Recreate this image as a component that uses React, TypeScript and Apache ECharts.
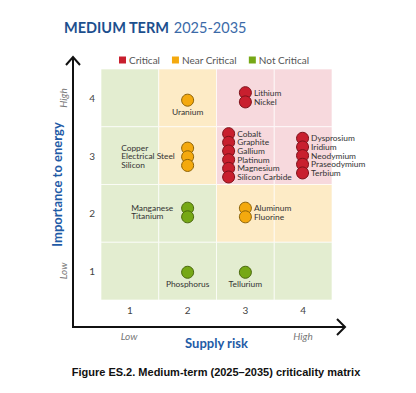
import React, { useEffect, useRef } from "react";
import * as echarts from "echarts";

// ---- data ----
const tickLabels = ["1", "2", "3", "4"];
const statuses = ["Critical", "Near Critical", "Not Critical"];
const minerals = [
  "Lithium", "Nickel", "Uranium",
  "Copper", "Electrical Steel", "Silicon",
  "Cobalt", "Graphite", "Gallium", "Platinum", "Magnesium", "Silicon Carbide",
  "Dysprosium", "Iridium", "Neodymium", "Praseodymium", "Terbium",
  "Manganese", "Titanium", "Aluminum", "Fluorine", "Phosphorus", "Tellurium",
];
const supplyRisk = [
  3, 3, 2,
  2, 2, 2,
  2.71, 2.71, 2.71, 2.71, 2.71, 2.71,
  3.99, 3.99, 3.99, 3.99, 3.99,
  2, 2, 3, 3, 2, 3,
];
const importance = [
  4.09, 3.93, 3.96,
  3.13, 2.98, 2.83,
  3.38, 3.23, 3.08, 2.93, 2.78, 2.63,
  3.3, 3.15, 3.0, 2.85, 2.7,
  2.09, 1.94, 2.09, 1.94, 0.98, 0.98,
];
const mineralStatus = [
  "Critical", "Critical", "Near Critical",
  "Near Critical", "Near Critical", "Near Critical",
  "Critical", "Critical", "Critical", "Critical", "Critical", "Critical",
  "Critical", "Critical", "Critical", "Critical", "Critical",
  "Not Critical", "Not Critical", "Near Critical", "Near Critical", "Not Critical", "Not Critical",
];
// zone of each cell: rows from importance 4 (top) to 1, columns supply risk 1..4
const cellZones = [
  ["Not Critical", "Near Critical", "Critical", "Critical"],
  ["Not Critical", "Near Critical", "Critical", "Critical"],
  ["Not Critical", "Not Critical", "Near Critical", "Near Critical"],
  ["Not Critical", "Not Critical", "Not Critical", "Not Critical"],
];

// ---- styles ----
const dotColor: Record<string, string> = {
  "Critical": "#c81f2e",
  "Near Critical": "#f4a90e",
  "Not Critical": "#76a816",
};
const dotBorder: Record<string, string> = {
  "Critical": "#7c1119",
  "Near Critical": "#8d6206",
  "Not Critical": "#48660c",
};
const cellColor: Record<string, string> = {
  "Critical": "#f7d9dd",
  "Near Critical": "#fdebc6",
  "Not Critical": "#e3edd0",
};
const labelPlacement: Record<string, any> = {
  "Uranium": { position: "bottom", distance: 1 },
  "Phosphorus": { position: "bottom", distance: 1 },
  "Tellurium": { position: "bottom", distance: 1 },
  "Copper": { position: [-60, 6], align: "left", verticalAlign: "middle" },
  "Electrical Steel": { position: [-60, 6], align: "left", verticalAlign: "middle" },
  "Silicon": { position: [-60, 6], align: "left", verticalAlign: "middle" },
  "Manganese": { position: [-50, 6], align: "left", verticalAlign: "middle" },
  "Titanium": { position: [-50, 6], align: "left", verticalAlign: "middle" },
};
const FONT = "Lato";

export default function App() {
  const ref = useRef<HTMLDivElement>(null);
  useEffect(() => {
    if (!ref.current) return;
    const chart = echarts.init(ref.current, undefined, { renderer: "svg" });

    const markData: any[] = [];
    cellZones.forEach((row, ri) => {
      const yVal = 4 - ri;
      row.forEach((zone, ci) => {
        const xVal = ci + 1;
        markData.push([
          { xAxis: xVal - 0.5, yAxis: yVal - 0.5, itemStyle: { color: cellColor[zone] } },
          { xAxis: xVal + 0.5, yAxis: yVal + 0.5 },
        ]);
      });
    });

    const series: any[] = statuses.map((st, si) => ({
      name: st,
      type: "scatter",
      symbol: "circle",
      symbolSize: 12,
      z: 3,
      itemStyle: { color: dotColor[st], borderColor: dotBorder[st], borderWidth: 1, opacity: 1 },
      label: {
        show: true,
        position: "right",
        distance: 2,
        fontFamily: FONT,
        fontSize: 8.4,
        lineHeight: 8,
        color: "#333",
        formatter: (p: any) => p.name,
      },
      data: minerals
        .map((m, i) => ({ m, i }))
        .filter(({ i }) => mineralStatus[i] === st)
        .map(({ m, i }) => ({
          name: m,
          value: [supplyRisk[i], importance[i]],
          label: labelPlacement[m] ? { ...labelPlacement[m] } : undefined,
        })),
      markArea:
        si === 0
          ? {
              silent: true,
              z: 1,
              itemStyle: { borderColor: "rgba(255,255,255,0.65)", borderWidth: 1 },
              label: { show: false },
              data: markData,
            }
          : undefined,
    }));

    const axisCommon = {
      type: "value",
      min: 0.5,
      max: 4.5,
      interval: 0.5,
      axisLine: { show: false },
      axisTick: { show: false },
      splitLine: { show: false },
    };

    chart.setOption({
      animation: false,
      textStyle: { fontFamily: FONT },
      title: {
        left: 59,
        top: 13,
        text: "{a|MEDIUM TERM} {b|2025-2035}",
        textStyle: {
          rich: {
            a: { fontFamily: FONT, fontSize: 14.5, fontWeight: "bold", color: "#1c4f8e" },
            b: { fontFamily: FONT, fontSize: 14.5, fontWeight: "normal", color: "#3b6aa8" },
          },
        },
      },
      legend: {
        top: 50,
        left: 114,
        itemGap: 12,
        itemWidth: 7,
        itemHeight: 7,
        icon: "rect",
        itemStyle: { borderWidth: 0 },
        textStyle: { fontFamily: FONT, fontSize: 10, color: "#555", padding: [0, 0, 0, -2] },
        data: statuses,
      },
      grid: { left: 101, top: 69, width: 231, height: 231 },
      xAxis: {
        ...axisCommon,
        name: "Supply risk",
        nameLocation: "middle",
        nameGap: 36,
        nameTextStyle: { fontFamily: FONT, fontSize: 13, fontWeight: "bold", color: "#1f5ba6" },
        axisLabel: {
          margin: 5,
          fontFamily: FONT,
          fontSize: 10,
          color: "#444",
          formatter: (v: number) => (Number.isInteger(v) ? tickLabels[v - 1] : ""),
        },
      },
      yAxis: {
        ...axisCommon,
        name: "Importance to energy",
        nameLocation: "middle",
        nameGap: 38,
        nameTextStyle: { fontFamily: FONT, fontSize: 13, fontWeight: "bold", color: "#1f5ba6" },
        axisLabel: {
          margin: 6,
          fontFamily: FONT,
          fontSize: 10,
          color: "#444",
          formatter: (v: number) => (Number.isInteger(v) ? tickLabels[v - 1] : ""),
        },
      },
      graphic: [
        { type: "line", shape: { x1: 73, y1: 328, x2: 73, y2: 58 }, style: { stroke: "#111", lineWidth: 2 } },
        { type: "polyline", shape: { points: [[66, 65], [73, 57], [80, 65]] }, style: { stroke: "#111", lineWidth: 2, fill: "none" } },
        { type: "line", shape: { x1: 72, y1: 327, x2: 345, y2: 327 }, style: { stroke: "#111", lineWidth: 2 } },
        { type: "polyline", shape: { points: [[337, 319], [345, 327], [337, 335]] }, style: { stroke: "#111", lineWidth: 2, fill: "none" } },
        { type: "text", x: 129, y: 336, style: { text: "Low", fontFamily: FONT, fontSize: 10, fontStyle: "italic", fill: "#777", align: "center", verticalAlign: "middle" } },
        { type: "text", x: 303, y: 336, style: { text: "High", fontFamily: FONT, fontSize: 10, fontStyle: "italic", fill: "#777", align: "center", verticalAlign: "middle" } },
        { type: "text", x: 63, y: 271, rotation: Math.PI / 2, style: { text: "Low", fontFamily: FONT, fontSize: 10, fontStyle: "italic", fill: "#777", align: "center", verticalAlign: "middle" } },
        { type: "text", x: 63, y: 98, rotation: Math.PI / 2, style: { text: "High", fontFamily: FONT, fontSize: 10, fontStyle: "italic", fill: "#777", align: "center", verticalAlign: "middle" } },
        { type: "text", x: 216, y: 372, style: { text: "Figure ES.2. Medium-term (2025–2035) criticality matrix", fontFamily: "Liberation Sans", fontSize: 11, fontWeight: "bold", fill: "#111", align: "center", verticalAlign: "middle" } },
      ],
      series,
    });
    return () => chart.dispose();
  }, []);
  return (
    <div
      ref={ref}
      style={{ position: "fixed", left: 0, top: 0, width: 416, height: 393, background: "#fff" }}
    />
  );
}
